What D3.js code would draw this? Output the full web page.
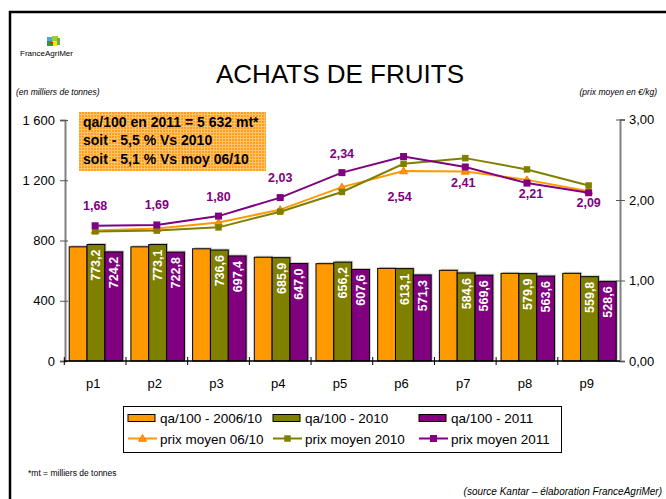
<!DOCTYPE html>
<html><head><meta charset="utf-8">
<script src="https://cdn.jsdelivr.net/npm/d3@7"></script>
<style>body{margin:0;background:#fff}svg{display:block;font-family:"Liberation Sans",Arial,sans-serif}</style>
</head><body>
<script>
// ---------- data ----------
const categories = ["p1","p2","p3","p4","p5","p6","p7","p8","p9"];
const qa0610 = [758, 758, 745, 689, 646, 615, 602, 582, 582];
const qa2010 = [773.2, 773.1, 736.6, 685.9, 656.2, 613.1, 584.6, 579.9, 559.8];
const qa2011 = [724.2, 722.8, 697.4, 647.0, 607.6, 571.3, 569.6, 563.6, 528.6];
const prix0610 = [1.62, 1.645, 1.72, 1.88, 2.16, 2.36, 2.355, 2.25, 2.11];
const prix2010 = [1.61, 1.62, 1.66, 1.855, 2.10, 2.45, 2.52, 2.38, 2.18];
const prix2011 = [1.68, 1.69, 1.80, 2.03, 2.34, 2.54, 2.41, 2.21, 2.09];
const leftTicks = [0, 400, 800, 1200, 1600];
const rightTicks = [0, 1, 2, 3];
const barNames = ["qa/100 - 2006/10", "qa/100 - 2010", "qa/100 - 2011"];
const lineNames = ["prix moyen 06/10", "prix moyen 2010", "prix moyen 2011"];
const boxLines = ["qa/100 en 2011 = 5 632 mt*", "soit - 5,5 % Vs 2010", "soit - 5,1 % Vs moy 06/10"];

// ---------- styles ----------
const ORANGE = "#FF9900", OLIVE = "#808000", PURPLE = "#800080";
const labelShift = [[0,-20],[0,-20],[0,-20],[0,-20],[0,-19],[-4,40],[-2,16],[4,10],[0,10]];

const W = 666, H = 499;
const svg = d3.select("body").append("svg").attr("width", W).attr("height", H);
const loc = d3.formatLocale({decimal: ",", thousands: " ", grouping: [3], currency: ["", "€"]});
const fmtL = loc.format(",.0f"), fmtR = loc.format(".2f"), fmt1 = loc.format(".1f");

// frame
svg.append("path").attr("d", `M10,${H} L10,12 L${W},12`).attr("fill", "none").attr("stroke", "#000").attr("stroke-width", 2.5);

// logo
const logo = svg.append("g");
[["#4aa8d8",47,37,6,4],["#2e9a3a",47,41,6,5],["#9acd32",52,36,6,6],["#ffe600",53,41,4,5],["#c0392b",50,42,3,2],["#6ab04c",57,38,3,7]].forEach(r =>
  logo.append("rect").attr("x", r[1]).attr("y", r[2]).attr("width", r[3]).attr("height", r[4]).attr("fill", r[0]));
svg.append("text").attr("x", 20).attr("y", 56).attr("font-size", 8).attr("textLength", 53).attr("lengthAdjust", "spacingAndGlyphs").text("FranceAgriMer");

// title
svg.append("text").attr("x", 340).attr("y", 83).attr("text-anchor", "middle").attr("font-size", 26).text("ACHATS DE FRUITS");
svg.append("text").attr("x", 16).attr("y", 95).attr("font-size", 8.5).attr("font-style", "italic").text("(en milliers de tonnes)");
svg.append("text").attr("x", 657).attr("y", 95).attr("text-anchor", "end").attr("font-size", 8.5).attr("font-style", "italic").text("(prix moyen en €/kg)");

// scales
const x = d3.scaleBand().domain(categories).range([64.3, 619.5]);
const series = [0, 1, 2];
const x1 = d3.scaleBand().domain(series).range([0, x.bandwidth()]).paddingOuter(0.23).align(0.6);
const yL = d3.scaleLinear().domain([0, 1600]).range([361, 120]);
const yR = d3.scaleLinear().domain([0, 3]).range([361, 119.5]);

// bars
const barData = [qa0610, qa2010, qa2011];
const barColors = [ORANGE, OLIVE, PURPLE];
const gBars = svg.append("g");
categories.forEach((c, i) => {
  series.forEach(s => {
    const v = barData[s][i];
    gBars.append("rect").attr("x", x(c) + x1(s) + 1.5).attr("y", yL(v) - 1.5)
      .attr("width", x1.bandwidth()).attr("height", yL(0) - yL(v)).attr("fill", "#c8c8c8");
  });
  series.forEach(s => {
    const v = barData[s][i];
    gBars.append("rect").attr("x", x(c) + x1(s)).attr("y", yL(v))
      .attr("width", x1.bandwidth()).attr("height", yL(0) - yL(v))
      .attr("fill", barColors[s]).attr("stroke", "#000").attr("stroke-width", 1);
  });
  [1, 2].forEach(s => {
    const v = barData[s][i];
    const cx = x(c) + x1(s) + x1.bandwidth() / 2, ty = yL(v) + 5;
    gBars.append("text").attr("transform", `translate(${cx + 4.5},${ty}) rotate(-90)`)
      .attr("text-anchor", "end").attr("font-size", 12.5).attr("font-weight", "bold").attr("fill", "#fff").text(fmt1(v));
  });
});

// text box with pattern
const defs = svg.append("defs");
const pat = defs.append("pattern").attr("id", "grid").attr("width", 3).attr("height", 3).attr("patternUnits", "userSpaceOnUse");
pat.append("rect").attr("width", 3).attr("height", 3).attr("fill", "#FF9E20");
pat.append("path").attr("d", "M0,0.5H3M0.5,0V3").attr("stroke", "#FFC46A").attr("stroke-width", 1);
svg.append("rect").attr("x", 79).attr("y", 112).attr("width", 187).attr("height", 59).attr("fill", "url(#grid)");
boxLines.forEach((t, i) => svg.append("text").attr("x", 83).attr("y", 127 + i * 18.3).attr("font-size", 14).attr("font-weight", "bold").text(t));

// left axis
const axL = svg.append("g").attr("transform", "translate(65,0)")
  .call(d3.axisLeft(yL).tickValues(leftTicks).tickFormat(fmtL).tickSize(5).tickPadding(5));
axL.select(".domain").attr("stroke", "#808080").attr("stroke-width", 2);
axL.selectAll(".tick line").attr("x1", 3).attr("stroke", "#555");
axL.selectAll(".tick text").attr("font-size", 13).attr("font-family", "Liberation Sans, Arial").attr("fill", "#000");

// right axis
const axR = svg.append("g").attr("transform", "translate(620,0)")
  .call(d3.axisRight(yR).tickValues(rightTicks).tickFormat(fmtR).tickSize(5).tickPadding(4));
axR.select(".domain").attr("stroke", "#808080").attr("stroke-width", 2);
axR.selectAll(".tick line").attr("x1", -4).attr("stroke", "#555");
axR.selectAll(".tick text").attr("font-size", 13).attr("font-family", "Liberation Sans, Arial").attr("fill", "#000");

// x axis
const axX = svg.append("g").attr("transform", "translate(0,361)");
axX.append("line").attr("x1", 64).attr("x2", 620).attr("stroke", "#000").attr("stroke-width", 1.5);
categories.forEach(c => {
  axX.append("line").attr("x1", x(c)).attr("x2", x(c)).attr("y1", -4).attr("y2", 4).attr("stroke", "#000");
  axX.append("text").attr("x", x(c) + x.bandwidth() / 2 - 2).attr("y", 27).attr("text-anchor", "middle").attr("font-size", 13).text(c);
});

// lines
const cxOf = c => x(c) + x.bandwidth() / 2;
const lineData = [prix0610, prix2010, prix2011];
const lineColors = [ORANGE, OLIVE, PURPLE];
const lineGen = d3.line().x((d, i) => cxOf(categories[i])).y(d => yR(d));
function marker(g, s, px, py, big) {
  if (s === 0) {
    const r = big ? 4.5 : 4;
    g.append("path").attr("d", `M${px},${py - r}L${px + r},${py + r * 0.7}L${px - r},${py + r * 0.7}Z`)
      .attr("fill", ORANGE).attr("stroke", "#ff6a00").attr("stroke-width", 0.8);
  } else {
    const a = s === 2 ? 7 : 6.5;
    g.append("rect").attr("x", px - a / 2).attr("y", py - a / 2).attr("width", a).attr("height", a).attr("fill", lineColors[s]);
  }
}
const gL = svg.append("g");
series.forEach(s => {
  gL.append("path").attr("d", lineGen(lineData[s])).attr("fill", "none").attr("stroke", lineColors[s]).attr("stroke-width", 2);
  lineData[s].forEach((v, i) => marker(gL, s, cxOf(categories[i]), yR(v)));
});
prix2011.forEach((v, i) => {
  gL.append("text").attr("x", cxOf(categories[i]) + labelShift[i][0]).attr("y", yR(v) + labelShift[i][1] + 4.5)
    .attr("text-anchor", "middle").attr("font-size", 12.5).attr("font-weight", "bold").attr("fill", PURPLE).text(fmtR(v));
});

// legend
const lg = svg.append("g");
lg.append("rect").attr("x", 123.5).attr("y", 406.5).attr("width", 438).attr("height", 46).attr("fill", "#fff").attr("stroke", "#000").attr("stroke-width", 1);
const colX = [128, 273, 419];
series.forEach(s => {
  lg.append("rect").attr("x", colX[s]).attr("y", 414.5).attr("width", 27).attr("height", 7).attr("fill", barColors[s]).attr("stroke", "#000").attr("stroke-width", 1);
  lg.append("text").attr("x", colX[s] + 32).attr("y", 423).attr("font-size", 13.5).text(barNames[s]);
  lg.append("line").attr("x1", colX[s]).attr("x2", colX[s] + 29).attr("y1", 438.5).attr("y2", 438.5).attr("stroke", lineColors[s]).attr("stroke-width", 2);
  marker(lg, s, colX[s] + 14.5, 438.5);
  lg.append("text").attr("x", colX[s] + 32).attr("y", 443.5).attr("font-size", 13.5).text(lineNames[s]);
});

// footnotes
svg.append("text").attr("x", 28).attr("y", 476).attr("font-size", 8.5).text("*mt = milliers de tonnes");
svg.append("text").attr("x", 662).attr("y", 495).attr("text-anchor", "end").attr("font-size", 10).attr("font-style", "italic").text("(source Kantar – élaboration FranceAgriMer)");
</script>
</body></html>
